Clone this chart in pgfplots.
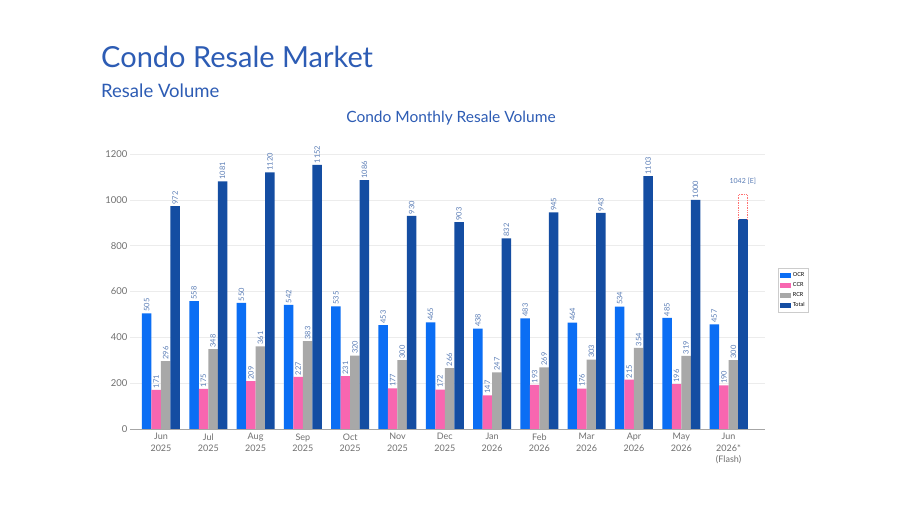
\documentclass[border=0pt]{standalone}
\usepackage{pgfplots}
\pgfplotsset{compat=1.18}
\usepackage{fontspec}
\setmainfont{Lato}
\definecolor{ocr}{HTML}{0B6EF4}
\definecolor{ccr}{HTML}{F866B0}
\definecolor{rcr}{HTML}{A8A8A8}
\definecolor{tot}{HTML}{144DA2}
\definecolor{ttl}{HTML}{2D5CB4}
\definecolor{lab}{HTML}{5A7DB6}
\definecolor{tick}{HTML}{707070}
\begin{document}
\begin{tikzpicture}[x=1pt,y=1pt]
\path[fill=white,use as bounding box] (0,0) rectangle (900,506);
\node[anchor=base west,text=ttl,font=\fontsize{29}{32}\selectfont,inner sep=0pt] at (101,438) {Condo Resale Market};
\node[anchor=base west,text=ttl,font=\fontsize{18.5}{20}\selectfont,inner sep=0pt] at (101,408) {Resale Volume};
\node[anchor=base,text=ttl,font=\fontsize{15.5}{17}\selectfont,inner sep=0pt] at (451,383) {Condo Monthly Resale Volume};
\begin{axis}[
  at={(130pt,77pt)}, anchor=south west,
  scale only axis, width=635pt, height=288.75pt,
  xmin=-0.655, xmax=12.77, ymin=0, ymax=1260,
  ybar, bar width=9.5pt,
  axis x line*=bottom, axis y line*=left,
  y axis line style={draw=none},
  x axis line style={draw=gray!70, line width=0.8pt},
  xtick={0,...,12}, major tick length=0pt,
  xticklabels={{Jun\\2025},{Jul\\2025},{Aug\\2025},{Sep\\2025},{Oct\\2025},{Nov\\2025},{Dec\\2025},{Jan\\2026},{Feb\\2026},{Mar\\2026},{Apr\\2026},{May\\2026},{Jun\\2026*\\(Flash)}},
  xticklabel style={align=center, text=tick, font=\fontsize{9}{11.5}\selectfont, yshift=-1pt},
  ytick={0,200,...,1200},
  yticklabel style={text=tick, font=\fontsize{9.5}{10}\selectfont, xshift=1pt},
  /pgf/number format/assume math mode=true,
  /pgf/number format/1000 sep={},
  ymajorgrids, grid style={gray!15, line width=0.5pt},
  nodes near coords,
  every node near coord/.append style={rotate=90, anchor=west, text=lab, font=\fontsize{7.5}{8}\selectfont, inner sep=1.5pt},
  legend style={at={(1.02,0.48)}, anchor=west, draw=gray!40, font=\fontsize{5.5}{6}\selectfont, row sep=0.5pt, inner sep=2pt},
  legend cell align=left,
  legend image code/.code={\fill[#1] (0pt,-2.2pt) rectangle (11pt,2.2pt);},
]
\addplot[fill=ocr, draw=none, bar shift=-14.25pt] coordinates {(0,505)(1,558)(2,550)(3,542)(4,535)(5,453)(6,465)(7,438)(8,483)(9,464)(10,534)(11,485)(12,457)};
\addlegendentry{OCR}
\addplot[fill=ccr, draw=none, bar shift=-4.75pt] coordinates {(0,171)(1,175)(2,209)(3,227)(4,231)(5,177)(6,172)(7,147)(8,193)(9,176)(10,215)(11,196)(12,190)};
\addlegendentry{CCR}
\addplot[fill=rcr, draw=none, bar shift=4.75pt] coordinates {(0,296)(1,348)(2,361)(3,383)(4,320)(5,300)(6,266)(7,247)(8,269)(9,303)(10,354)(11,319)(12,300)};
\addlegendentry{RCR}
\addplot[fill=tot, draw=none, bar shift=14.25pt] coordinates {(0,972)(1,1081)(2,1120)(3,1152)(4,1086)(5,930)(6,903)(7,832)(8,945)(9,943)(10,1103)(11,1000)};
\addlegendentry{Total}
\addplot[fill=tot, draw=none, bar shift=14.25pt, nodes near coords={}, forget plot] coordinates {(12,915)};
\addplot[sharp plot, draw=red!55, densely dotted, line width=0.7pt, nodes near coords={}, forget plot] coordinates {(12.2,915)(12.2,1022)(12.4,1022)(12.4,915)};
\node[text=lab, font=\fontsize{7}{8}\selectfont, anchor=base] at (axis cs:12.3,1070) {1042 [E]};
\end{axis}
\end{tikzpicture}
\end{document}
